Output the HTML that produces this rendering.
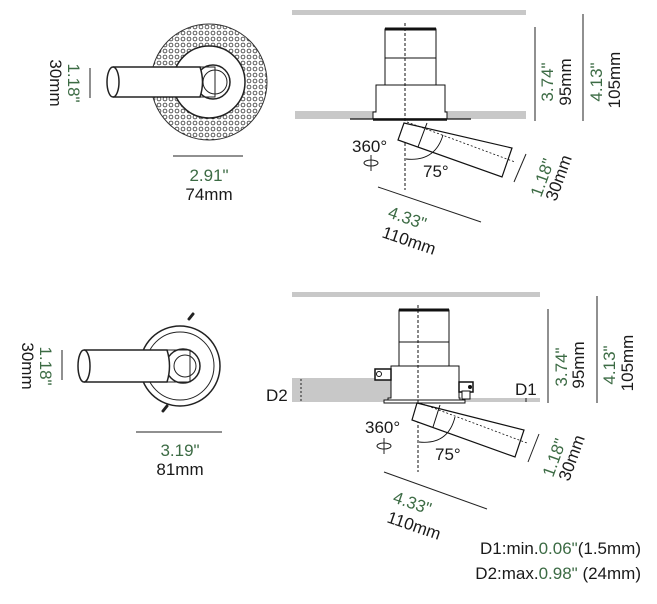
<!DOCTYPE html>
<html><head><meta charset="utf-8"><style>
html,body{margin:0;padding:0;background:#fff;}
svg{display:block;}
text{font-family:"Liberation Sans",sans-serif;font-size:17px;fill:#1a1a1a;}
.g{fill:#3c6b44;}
</style></head><body>
<svg width="657" height="604" viewBox="0 0 657 604" xmlns="http://www.w3.org/2000/svg">
<defs>
<pattern id="dots" width="6" height="6" patternUnits="userSpaceOnUse">
<circle cx="3" cy="3" r="1.9" fill="none" stroke="#333" stroke-width="0.8"/>
</pattern>
<mask id="ann"><rect width="657" height="604" fill="#000"/><circle cx="209" cy="82" r="58" fill="#fff"/><circle cx="209" cy="82" r="36" fill="#000"/></mask>
</defs>

<!-- ========== TOP LEFT ========== -->
<rect x="140" y="20" width="140" height="130" fill="url(#dots)" mask="url(#ann)"/>
<circle cx="209" cy="82" r="58" fill="none" stroke="#333" stroke-width="1"/>
<circle cx="209" cy="82" r="36" fill="#fff" stroke="#222" stroke-width="1.5"/>
<circle cx="213" cy="82" r="17" fill="none" stroke="#222" stroke-width="1.5"/>
<circle cx="215" cy="82" r="12" fill="none" stroke="#222" stroke-width="1"/>
<path d="M113 67 L200 67 Q205 82 200 97 L113 97" fill="#fff" stroke="#222" stroke-width="1.5"/>
<path d="M200 67 L215 67 L215 97 L200 97" fill="none" stroke="#222" stroke-width="1"/>
<ellipse cx="113" cy="82" rx="6" ry="15" fill="#fff" stroke="#222" stroke-width="1.5"/>
<line x1="90" y1="68" x2="90" y2="98" stroke="#222" stroke-width="1"/>
<text class="g" transform="translate(68,83) rotate(90)" text-anchor="middle">1.18"</text>
<text transform="translate(50,83) rotate(90)" text-anchor="middle">30mm</text>
<line x1="173" y1="156" x2="243" y2="156" stroke="#222" stroke-width="1"/>
<text class="g" x="209" y="181" text-anchor="middle">2.91"</text>
<text x="209" y="200" text-anchor="middle">74mm</text>

<!-- ========== TOP RIGHT ========== -->
<rect x="292" y="10" width="234" height="5" fill="#c8c8c8"/>
<rect x="295" y="111" width="231" height="8" fill="#c8c8c8"/>
<rect x="385" y="29" width="51" height="56" fill="#fff" stroke="#111" stroke-width="1"/>
<line x1="385" y1="29" x2="436" y2="29" stroke="#111" stroke-width="3"/>
<line x1="385" y1="58" x2="436" y2="58" stroke="#111" stroke-width="1"/>
<path d="M376 85 L445 85 L445 112 L447 112 L447 119 L373 119 L373 112 L376 112 Z" fill="#fff" stroke="#111" stroke-width="1"/>
<line x1="350" y1="119" x2="471" y2="119" stroke="#111" stroke-width="1.2"/>
<line x1="373" y1="119.5" x2="447" y2="119.5" stroke="#111" stroke-width="2.5"/>
<line x1="405" y1="23" x2="405" y2="190" stroke="#111" stroke-width="1" stroke-dasharray="3,2"/>
<path d="M404 123 L512 148 L502 177 L398 140 Z" fill="#fff" stroke="#111" stroke-width="1.2"/>
<line x1="427" y1="123" x2="418" y2="147" stroke="#111" stroke-width="1"/>
<line x1="407" y1="122" x2="515" y2="162" stroke="#111" stroke-width="0.8" stroke-dasharray="2,2"/>
<path d="M406 159 Q435 162 443 135" fill="none" stroke="#111" stroke-width="0.9"/>
<text x="423" y="177">75°</text>
<text x="352" y="152">360°</text>
<ellipse cx="371" cy="163" rx="7" ry="3" fill="none" stroke="#222" stroke-width="1"/>
<line x1="371" y1="155" x2="371" y2="171" stroke="#222" stroke-width="1"/>
<line x1="378" y1="187" x2="481" y2="222" stroke="#222" stroke-width="1"/>
<text class="g" transform="translate(387,217) rotate(19)">4.33"</text>
<text transform="translate(381,237) rotate(19)">110mm</text>
<line x1="526" y1="154" x2="514" y2="182" stroke="#222" stroke-width="1"/>
<text class="g" transform="translate(541,198) rotate(-70)">1.18"</text>
<text transform="translate(556,202) rotate(-70)">30mm</text>
<line x1="535" y1="27" x2="535" y2="121" stroke="#222" stroke-width="1"/>
<text class="g" transform="translate(553,82) rotate(-90)" text-anchor="middle">3.74"</text>
<text transform="translate(571,82) rotate(-90)" text-anchor="middle">95mm</text>
<line x1="583" y1="14" x2="583" y2="121" stroke="#222" stroke-width="1"/>
<text class="g" transform="translate(602,82) rotate(-90)" text-anchor="middle">4.13"</text>
<text transform="translate(620,80) rotate(-90)" text-anchor="middle">105mm</text>

<!-- ========== BOTTOM LEFT ========== -->
<path d="M189 319 l4 -5 M163 411 l4 -5" stroke="#222" stroke-width="3" stroke-linecap="round"/>
<circle cx="180" cy="366" r="40" fill="#fff" stroke="#222" stroke-width="1.5"/>
<circle cx="180" cy="366" r="34" fill="none" stroke="#222" stroke-width="1"/>
<circle cx="183" cy="366" r="17" fill="none" stroke="#222" stroke-width="1.5"/>
<circle cx="185" cy="366" r="11" fill="none" stroke="#222" stroke-width="1"/>
<path d="M84 350 L167 350 Q172 366 167 382 L84 382" fill="#fff" stroke="#222" stroke-width="1.5"/>
<path d="M167 350 L190 350 L190 382 L167 382" fill="none" stroke="#222" stroke-width="1"/>
<ellipse cx="84" cy="366" rx="6" ry="16" fill="#fff" stroke="#222" stroke-width="1.5"/>
<line x1="62" y1="350" x2="62" y2="380" stroke="#222" stroke-width="1"/>
<text class="g" transform="translate(40,366) rotate(90)" text-anchor="middle">1.18"</text>
<text transform="translate(22,366) rotate(90)" text-anchor="middle">30mm</text>
<line x1="136" y1="432" x2="222" y2="432" stroke="#222" stroke-width="1"/>
<text class="g" x="180" y="456" text-anchor="middle">3.19"</text>
<text x="180" y="475" text-anchor="middle">81mm</text>

<!-- ========== BOTTOM RIGHT ========== -->
<rect x="292" y="292" width="248" height="5" fill="#c8c8c8"/>
<rect x="292" y="378" width="99" height="24" fill="#c8c8c8"/>
<rect x="465" y="398" width="75" height="4" fill="#c8c8c8"/>
<line x1="301" y1="379" x2="301" y2="401" stroke="#222" stroke-width="1" stroke-dasharray="2,2"/>
<line x1="526" y1="398" x2="526" y2="402" stroke="#222" stroke-width="1"/>
<text x="266" y="401">D2</text>
<text x="515" y="395">D1</text>
<rect x="399" y="310" width="50" height="56" fill="#fff" stroke="#111" stroke-width="1"/>
<line x1="399" y1="310" x2="449" y2="310" stroke="#111" stroke-width="3"/>
<line x1="399" y1="342" x2="449" y2="342" stroke="#111" stroke-width="1"/>
<path d="M391 366 L459 366 L459 398 L460 398 L460 401 L388 401 L388 398 L391 398 Z" fill="#fff" stroke="#111" stroke-width="1"/>
<rect x="384" y="400" width="81" height="3" fill="#fff" stroke="#111" stroke-width="1"/>
<rect x="375" y="369" width="16" height="11" fill="#fff" stroke="#111" stroke-width="1.5"/>
<circle cx="379" cy="374" r="2.5" fill="none" stroke="#111" stroke-width="1"/>
<rect x="459" y="382" width="14" height="10" fill="#fff" stroke="#111" stroke-width="1.5"/>
<circle cx="470" cy="387" r="2" fill="#111"/>
<rect x="462" y="391" width="8" height="8" fill="#fff" stroke="#111" stroke-width="1"/>
<line x1="418" y1="305" x2="418" y2="472" stroke="#111" stroke-width="1" stroke-dasharray="3,2"/>
<path d="M417 403 L524 430 L515 457 L412 420 Z" fill="#fff" stroke="#111" stroke-width="1.2"/>
<line x1="440" y1="405" x2="433" y2="427" stroke="#111" stroke-width="1"/>
<line x1="420" y1="403" x2="527" y2="443" stroke="#111" stroke-width="0.8" stroke-dasharray="2,2"/>
<path d="M419 442 Q448 445 455 417" fill="none" stroke="#111" stroke-width="0.9"/>
<text x="435" y="460">75°</text>
<text x="365" y="433">360°</text>
<ellipse cx="384" cy="446" rx="7" ry="3" fill="none" stroke="#222" stroke-width="1"/>
<line x1="384" y1="438" x2="384" y2="454" stroke="#222" stroke-width="1"/>
<line x1="384" y1="472" x2="487" y2="509" stroke="#222" stroke-width="1"/>
<text class="g" transform="translate(392,502) rotate(19)">4.33"</text>
<text transform="translate(386,522) rotate(19)">110mm</text>
<line x1="539" y1="434" x2="528" y2="462" stroke="#222" stroke-width="1"/>
<text class="g" transform="translate(553,478) rotate(-70)">1.18"</text>
<text transform="translate(569,482) rotate(-70)">30mm</text>
<line x1="548" y1="309" x2="548" y2="403" stroke="#222" stroke-width="1"/>
<text class="g" transform="translate(567,367) rotate(-90)" text-anchor="middle">3.74"</text>
<text transform="translate(584,365) rotate(-90)" text-anchor="middle">95mm</text>
<line x1="597" y1="296" x2="597" y2="403" stroke="#222" stroke-width="1"/>
<text class="g" transform="translate(615,365) rotate(-90)" text-anchor="middle">4.13"</text>
<text transform="translate(633,363) rotate(-90)" text-anchor="middle">105mm</text>

<text x="641" y="554" text-anchor="end">D1:min.<tspan class="g">0.06"</tspan>(1.5mm)</text>
<text x="641" y="579" text-anchor="end">D2:max.<tspan class="g">0.98"</tspan> (24mm)</text>
</svg>
</body></html>
